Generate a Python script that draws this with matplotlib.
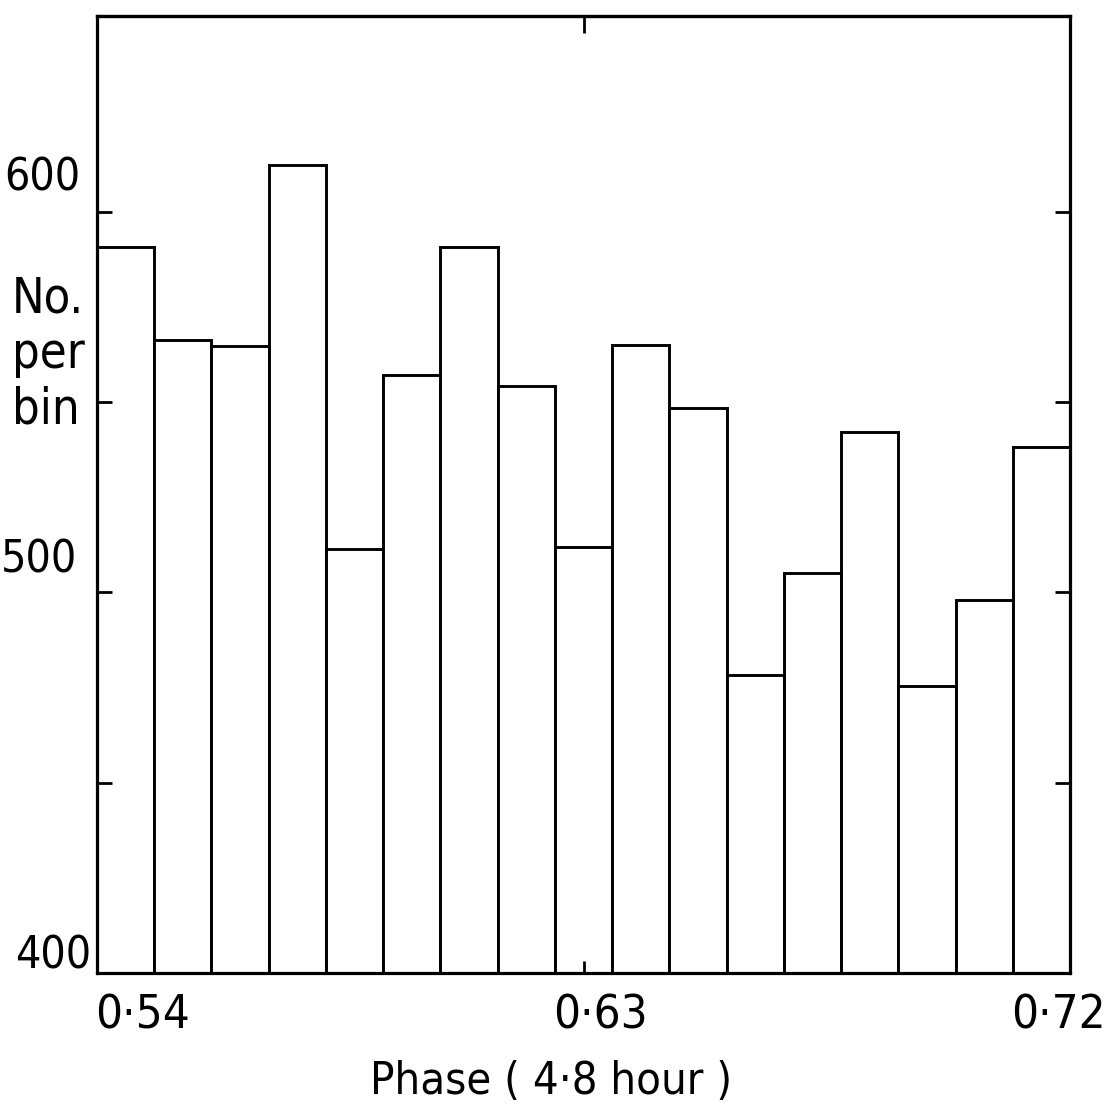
import numpy as np
import matplotlib
matplotlib.use("Agg")
import matplotlib.pyplot as plt
from matplotlib import font_manager as fm

# ---- data ----
phase_start = 0.54
phase_end = 0.72
n_bins = 17
counts = [590.6, 566.4, 564.6, 612.2, 511.4, 557.0, 590.6, 554.3, 512.0,
          564.9, 548.4, 478.3, 505.0, 542.1, 475.5, 498.0, 538.1]
xtick_vals = [0.54, 0.63, 0.72]
xtick_labels = ["0·54", "0·63", "0·72"]
ytick_marks = [450, 500, 550, 600]
ylabel_vals = [600, 500, 400]
ylabel_texts = ["600", "500", "400"]

# ---- pick a narrow lettering-like font if one is installed ----
def _is_narrow(f):
    st = f.stretch
    if isinstance(st, str):
        if 'condensed' in st.lower():
            return True
    elif isinstance(st, (int, float)) and st < 500:
        return True
    return ('Narrow' in f.name) or ('Condensed' in f.name)

narrow = [f for f in fm.fontManager.ttflist
          if _is_narrow(f) and f.style == 'normal'
          and (f.weight in (400, 'normal', 'regular', 'book'))]
pref = ['Liberation Sans Narrow', 'DejaVu Sans', 'Roboto', 'Open Sans', 'Noto Sans', 'Lato']
narrow.sort(key=lambda f: (pref.index(f.name) if f.name in pref else 99))
if narrow:
    FONT = fm.FontProperties(fname=narrow[0].fname)
    scale = 1.0
else:
    FONT = fm.FontProperties(family='Liberation Sans')
    scale = 0.85

def fp(size):
    p = FONT.copy()
    p.set_size(size * scale)
    return p

centers = np.linspace(phase_start, phase_end, n_bins)
width = (phase_end - phase_start) / (n_bins - 1)

fig = plt.figure(figsize=(11.09, 11.06), dpi=100)
ax = fig.add_axes([0.0875, 0.1203, 0.8773, 0.8655])

ax.bar(centers, np.array(counts) - 400, width=width, bottom=400,
       facecolor='white', edgecolor='black', linewidth=2.1)

ax.set_xlim(centers[0] - width / 2, centers[-1] + width / 2)
ax.set_ylim(400, 651.5)

for s in ax.spines.values():
    s.set_linewidth(2.3)

# y tick marks (inward, left and right)
ax.set_yticks(ytick_marks)
ax.set_yticklabels([])
ax.tick_params(axis='y', which='major', direction='in', left=True, right=True,
               length=11, width=2.0)

# x: tick mark only at 0.63 (bottom & top); labels lettered below
ax.set_xticks([0.63])
ax.set_xticklabels([])
ax.tick_params(axis='x', which='major', direction='in', bottom=True, top=False,
               length=9, width=2.0)
secx = ax.secondary_xaxis('top')
secx.set_xticks([0.63])
secx.set_xticklabels([])
secx.tick_params(direction='in', length=12, width=2.0)
secx.spines['top'].set_linewidth(2.3)

for v, t in zip(xtick_vals, xtick_labels):
    ax.annotate(t, xy=(v, 0), xycoords=('data', 'axes fraction'),
                xytext=(12, -31), textcoords='offset points',
                ha='center', va='center', fontproperties=fp(34))

# y value labels (lettered just above their ticks)
label_offsets = [(-12, 24), (-14, 23), (-4, 12)]
for v, t, off in zip(ylabel_vals, ylabel_texts, label_offsets):
    ax.annotate(t, xy=(0, v), xycoords=('axes fraction', 'data'),
                xytext=off, textcoords='offset points',
                ha='right', va='center', fontproperties=fp(32))

# y axis title
fig.text(0.011, 0.68, "No.\nper\nbin", ha='left', va='center',
         fontproperties=fp(35), linespacing=1.2)

# x axis title
fig.text(0.497, 0.003, "Phase ( 4·8 hour )", ha='center', va='bottom',
         fontproperties=fp(32.5))

fig.savefig("out.png", dpi=100)
